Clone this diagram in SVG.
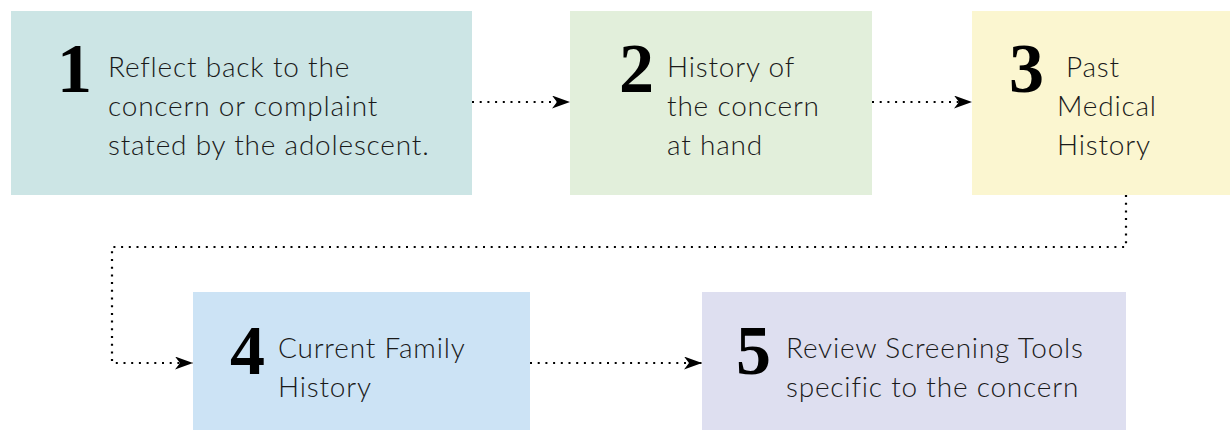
<svg xmlns="http://www.w3.org/2000/svg" width="1230" height="430" viewBox="0 0 1230 430">
<defs>
<style>
.t{font-family:"Lato","Open Sans",sans-serif;font-weight:300;font-size:28px;letter-spacing:0.8px;fill:#1a1a1a;}
.n{font-family:"Liberation Serif","DejaVu Serif",serif;font-weight:bold;font-size:70px;fill:#000;}
.c{fill:none;stroke:#000;stroke-width:2.2;stroke-dasharray:2 5.7;}
</style>
<marker id="ah" markerWidth="20" markerHeight="14" refX="18" refY="6.5" orient="auto" markerUnits="userSpaceOnUse">
<path d="M0,0 L18,6.5 L0,13 L5,6.5 Z" fill="#000"/>
</marker>
</defs>
<rect width="1230" height="430" fill="#fff"/>
<g id="node1">
<rect x="11" y="11" width="461" height="184" fill="#cce5e5"/>
<text class="n" x="57" y="92">1</text>
<text class="t" x="108" y="77">Reflect back to the</text>
<text class="t" x="108" y="116">concern or complaint</text>
<text class="t" x="108" y="155">stated by the adolescent.</text>
</g>
<g id="node2">
<rect x="570" y="11" width="302" height="184" fill="#e2efdb"/>
<text class="n" x="619" y="92">2</text>
<text class="t" x="667" y="77">History of</text>
<text class="t" x="667" y="116">the concern</text>
<text class="t" x="667" y="155">at hand</text>
</g>
<g id="node3">
<rect x="972" y="11" width="258" height="184" fill="#fbf6d0"/>
<text class="n" x="1009" y="92">3</text>
<text class="t" x="1066" y="77">Past</text>
<text class="t" x="1057" y="116">Medical</text>
<text class="t" x="1057" y="155">History</text>
</g>
<g id="node4">
<rect x="193" y="292" width="337" height="138" fill="#cce3f5"/>
<text class="n" x="230" y="374">4</text>
<text class="t" x="278" y="358">Current Family</text>
<text class="t" x="278" y="397">History</text>
</g>
<g id="node5">
<rect x="702" y="292" width="424" height="138" fill="#dedff0"/>
<text class="n" x="736" y="374">5</text>
<text class="t" x="786" y="358">Review Screening Tools</text>
<text class="t" x="786" y="397">specific to the concern</text>
</g>
<g id="connectors">
<path class="c" d="M472,102 L570,102" marker-end="url(#ah)"/>
<path class="c" d="M872,102 L972,102" marker-end="url(#ah)"/>
<path class="c" d="M1126,195 L1126,247 L112,247 L112,363 L193,363" marker-end="url(#ah)"/>
<path class="c" d="M530,363 L702,363" marker-end="url(#ah)"/>
</g>
</svg>
